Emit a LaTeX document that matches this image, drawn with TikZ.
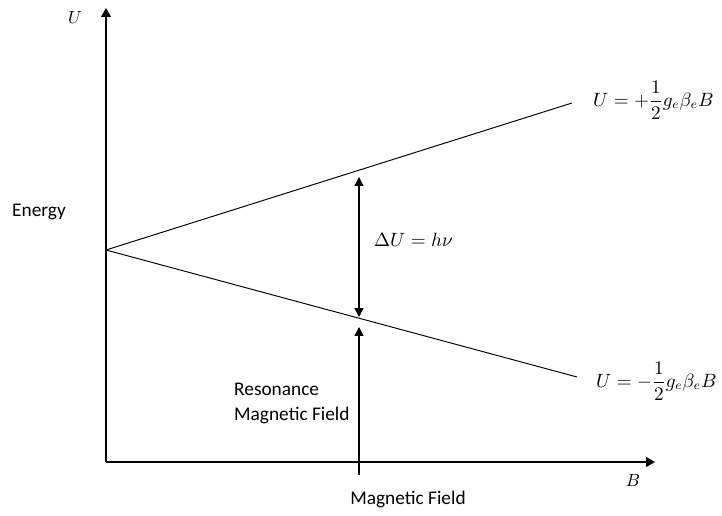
\documentclass[tikz,border=0pt]{standalone}
\usepackage{amsmath}
\usepackage{fontspec}
\setmainfont{Carlito}
\usepackage{tikz}
\usetikzlibrary{arrows.meta,calc}

\begin{document}
\begin{tikzpicture}[
  x=0.02cm, y=-0.02cm,
  axis/.style={line width=0.75pt,-{Triangle[length=5pt,width=5.5pt]}},
  level/.style={line width=0.55pt},
  arrow/.style={line width=0.7pt,-{Triangle[length=5pt,width=5pt]}},
  darrow/.style={line width=0.7pt,{Triangle[length=5pt,width=5pt]}-{Triangle[length=5pt,width=5pt]}},
  txt/.style={font=\fontsize{11}{14}\selectfont,align=left},
  eq/.style={font=\fontsize{10.5}{13}\selectfont,anchor=west}
]
  \useasboundingbox (0,0) rectangle (722,516);

  % Axes
  \coordinate (o) at (106,462);
  \coordinate (ytip) at (106,8);
  \coordinate (xtip) at (655,462);
  \draw[axis] (o) -- (ytip);
  \draw[axis] (o) -- (xtip);
  \node (ulab) at (75,18) {$U$};
  \node (blab) at (633,480) {$B$};
  \node[txt] (energy) at (39,212) {Energy};
  \node[txt] (field) at (408,499) {Magnetic Field};

  % Zeeman levels
  \coordinate (split) at (106,250);
  \node[eq] (uplus) at (587,100) {$U=+\dfrac{1}{2}g_e\beta_e B$};
  \node[eq] (uminus) at (590,381) {$U=-\dfrac{1}{2}g_e\beta_e B$};
  \coordinate (upend) at (572,103);
  \coordinate (loend) at (577,377);
  \draw[level] (split) -- (upend);
  \draw[level] (split) -- (loend);

  % Transition
  \coordinate (hi) at (359,177);
  \coordinate (lo) at (359,317);
  \coordinate (foot) at (359,475);
  \coordinate (res) at (359,327);
  \draw[darrow] (lo) -- (hi);
  \node[eq] (delta) at (368,240) {$\Delta U=h\nu$};
  \draw[arrow] (foot) -- (res);
  \node[txt,anchor=north west] (reslab) at (228,377) {Resonance\\Magnetic Field};
\end{tikzpicture}
\end{document}
